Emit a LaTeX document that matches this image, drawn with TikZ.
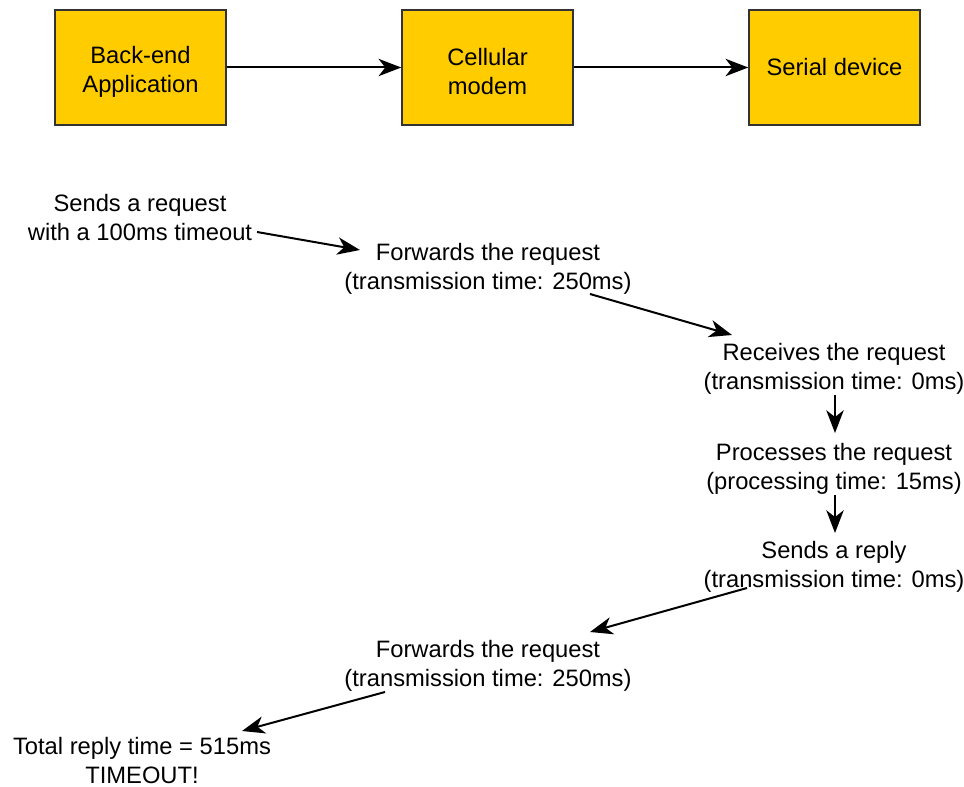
\documentclass[tikz,border=0pt]{standalone}
\usepackage{fontspec}
\setmainfont{Liberation Sans}
\usetikzlibrary{arrows.meta,calc}
\newcommand{\diagfont}{\fontsize{17.8}{21.75}\selectfont}

\begin{document}
\begin{tikzpicture}[x=0.75pt,y=-0.75pt,
	unit/.style={draw=boxedge,fill=boxyellow,line width=1.4pt,minimum width=128pt,minimum height=86pt,align=center,font=\diagfont},
	lowtext/.style={text height=41pt},
	note/.style={align=center,inner sep=0pt,font=\diagfont},
	flow/.style={line width=1.5pt,-{Stealth[length=17pt,width=13pt,inset=5pt]}}]

	\definecolor{boxyellow}{rgb}{1.00,0.80,0.00}
	\definecolor{boxedge}{rgb}{0.20,0.20,0.20}

	\useasboundingbox (0,0) rectangle (964,787);

	% the three parts
	\node (backend) [unit,lowtext] at (140.5,67.5) {Back-end\\Application};
	\node (modem) [unit,lowtext] at (487.5,67.5) {Cellular\\modem};
	\node (serial) [unit] at (834.5,67.5) {Serial device};

	\draw [flow] (backend.east) -- (modem.west);
	\draw [flow] (modem.east) -- (serial.west);

	% timing steps
	\node (req) [note] at (140,218) {Sends a request\\with a 100ms timeout};
	\node (fwd1) [note] at (488,269) {Forwards the request\\(transmission time: 250ms)};
	\node (recv) [note] at (834,369) {Receives the request\\(transmission time: 0ms)};
	\node (proc) [note] at (834,469) {Processes the request\\(processing time: 15ms)};
	\node (reply) [note] at (834,567) {Sends a reply\\(transmission time: 0ms)};
	\node (fwd2) [note] at (488,666) {Forwards the request\\(transmission time: 250ms)};
	\node (total) [note] at (142,761) {Total reply time = 515ms\\TIMEOUT!};

	\draw [flow] ($(req.center)+(117,14)$) -- ($(fwd1.center)+(-128,-19)$);
	\draw [flow] ($(fwd1.center)+(102,25)$) -- ($(recv.center)+(-102,-34)$);
	\draw [flow] ($(recv.center)+(1,26)$) -- ($(proc.center)+(1,-36)$);
	\draw [flow] ($(proc.center)+(1,26)$) -- ($(reply.center)+(1,-34)$);
	\draw [flow] ($(reply.center)+(-87,21)$) -- ($(fwd2.center)+(102,-34)$);
	\draw [flow] ($(fwd2.center)+(-103,26)$) -- ($(total.center)+(100,-30)$);

\end{tikzpicture}
\end{document}
